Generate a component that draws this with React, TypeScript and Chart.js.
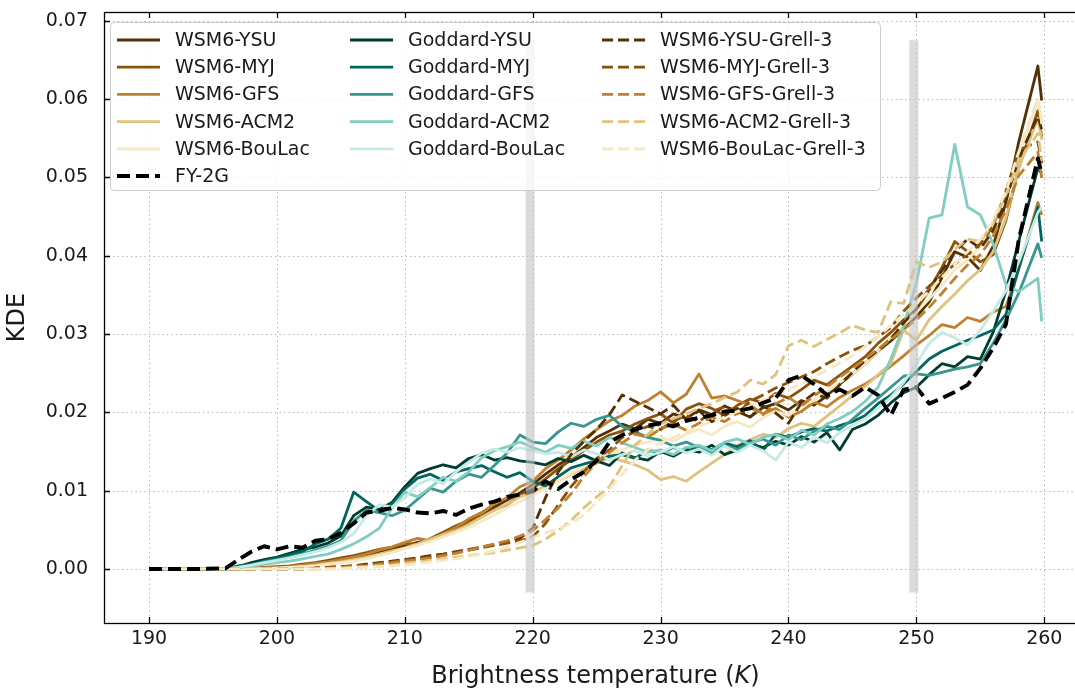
import React, { useEffect, useRef } from "react";
import { Chart, registerables } from "chart.js";

Chart.register(...registerables);

// Brightness temperature grid (K)
const temps = [
  190, 192, 194, 196, 197, 198, 199, 200, 201, 202,
  203, 204, 205, 206, 207, 208, 209, 210, 211, 212,
  213, 214, 215, 216, 217, 218, 219, 220, 221, 222,
  223, 224, 225, 226, 227, 228, 229, 230, 231, 232,
  233, 234, 235, 236, 237, 238, 239, 240, 241, 242,
  243, 244, 245, 246, 247, 248, 249, 250, 251, 252,
  253, 254, 255, 256, 257, 258, 259.5, 259.8,
];

// KDE of simulated brightness temperature, WSM6 microphysics
const wsm6Ysu = [
  0, 0, 0, 0, 0, 0, 0.0001, 0.0002, 0.0003, 0.0004,
  0.0006, 0.0008, 0.0011, 0.0014, 0.0018, 0.0022, 0.0026, 0.0029, 0.0034, 0.0037,
  0.0042, 0.0051, 0.0058, 0.0067, 0.0079, 0.0088, 0.0097, 0.0108, 0.0121, 0.0133,
  0.0142, 0.0155, 0.0168, 0.0176, 0.0185, 0.0179, 0.0191, 0.0186, 0.0198, 0.0192,
  0.0203, 0.0197, 0.0208, 0.0201, 0.0194, 0.0206, 0.0211, 0.0203, 0.0215, 0.0209,
  0.0221, 0.0236, 0.0249, 0.0262, 0.0278, 0.0291, 0.0306, 0.0322, 0.0341, 0.0372,
  0.0405, 0.0398, 0.0381, 0.0412, 0.0468, 0.0545, 0.0642, 0.0598,
];
const wsm6Myj = [
  0, 0, 0, 0, 0, 0.0001, 0.0002, 0.0003, 0.0004, 0.0006,
  0.0008, 0.0011, 0.0014, 0.0017, 0.0021, 0.0025, 0.0028, 0.0033, 0.0031, 0.0039,
  0.0047, 0.0055, 0.0062, 0.0068, 0.0076, 0.0082, 0.0094, 0.0103, 0.0115, 0.0128,
  0.0139, 0.0151, 0.0162, 0.0171, 0.0176, 0.0185, 0.0192, 0.0198, 0.0186, 0.0204,
  0.0211, 0.0205, 0.0196, 0.0209, 0.0217, 0.0212, 0.0224, 0.0218, 0.0229, 0.0241,
  0.0235, 0.0247, 0.0259, 0.0271, 0.0288, 0.0302, 0.0318, 0.0331, 0.0356, 0.0385,
  0.0418, 0.0405, 0.0392, 0.0401, 0.0445, 0.0512, 0.0585, 0.0551,
];
const wsm6Gfs = [
  0, 0, 0, 0, 0, 0, 0.0001, 0.0002, 0.0003, 0.0005,
  0.0007, 0.0009, 0.0012, 0.0015, 0.0019, 0.0024, 0.0028, 0.0034, 0.0039, 0.0036,
  0.0045, 0.0053, 0.0064, 0.0072, 0.0083, 0.0091, 0.0105, 0.0112, 0.0128, 0.0139,
  0.0152, 0.0166, 0.0178, 0.0189, 0.0196, 0.0208, 0.0215, 0.0226, 0.0212, 0.0223,
  0.0249, 0.0218, 0.0221, 0.0215, 0.0209, 0.0198, 0.0205, 0.0194, 0.0201, 0.0213,
  0.0207, 0.0219, 0.0228, 0.0236, 0.0247, 0.0259, 0.0272, 0.0286, 0.0298, 0.0312,
  0.0308, 0.0321, 0.0316, 0.0328, 0.0335, 0.0382, 0.0468, 0.0452,
];
const wsm6Acm2 = [
  0, 0, 0, 0, 0, 0, 0.0001, 0.0001, 0.0002, 0.0003,
  0.0005, 0.0007, 0.0009, 0.0012, 0.0015, 0.0019, 0.0023, 0.0027, 0.0032, 0.0038,
  0.0044, 0.0049, 0.0057, 0.0066, 0.0075, 0.0083, 0.0092, 0.0098, 0.0106, 0.0112,
  0.0121, 0.0129, 0.0135, 0.0142, 0.0138, 0.0133, 0.0126, 0.0114, 0.0118, 0.0112,
  0.0124, 0.0135, 0.0146, 0.0158, 0.0165, 0.0172, 0.0168, 0.0179, 0.0186, 0.0182,
  0.0195, 0.0208, 0.0221, 0.0233, 0.0248, 0.0262, 0.0305, 0.0292, 0.0318, 0.0335,
  0.0351, 0.0368, 0.0382, 0.0405, 0.0448, 0.0512, 0.0575, 0.0548,
];
const wsm6BouLac = [
  0, 0, 0, 0, 0, 0, 0, 0.0001, 0.0002, 0.0003,
  0.0004, 0.0006, 0.0008, 0.001, 0.0013, 0.0017, 0.0021, 0.0026, 0.003, 0.0035,
  0.0041, 0.0047, 0.0053, 0.0061, 0.0069, 0.0078, 0.0086, 0.0094, 0.0103, 0.0112,
  0.0122, 0.0131, 0.0139, 0.0147, 0.0152, 0.0158, 0.0162, 0.0168, 0.0163, 0.0172,
  0.0178, 0.0171, 0.0182, 0.0188, 0.0181, 0.0193, 0.0201, 0.0196, 0.0208, 0.0215,
  0.0226, 0.0238, 0.0249, 0.0262, 0.0278, 0.0296, 0.0311, 0.0328, 0.0345, 0.0362,
  0.0382, 0.0395, 0.0412, 0.0438, 0.0475, 0.0528, 0.0598, 0.0572,
];

// FY-2G satellite observation
const fy2g = [
  0, 0, 0, 0.0001, 0.0012, 0.0022, 0.0029, 0.0025, 0.0029, 0.0027,
  0.0036, 0.0038, 0.0046, 0.0058, 0.0072, 0.0074, 0.0078, 0.0076, 0.0072, 0.0071,
  0.0074, 0.0069, 0.0077, 0.0082, 0.0086, 0.0092, 0.0095, 0.0099, 0.0112, 0.0102,
  0.0114, 0.0124, 0.0138, 0.0162, 0.0171, 0.0178, 0.0183, 0.0186, 0.0182, 0.0189,
  0.0193, 0.0196, 0.0201, 0.0202, 0.0205, 0.0212, 0.0218, 0.0241, 0.0247, 0.0236,
  0.0222, 0.0229, 0.0221, 0.0232, 0.0222, 0.0196, 0.0229, 0.0232, 0.0211, 0.0218,
  0.0226, 0.0235, 0.0256, 0.0282, 0.0312, 0.042, 0.0524, 0.0505,
];

// Goddard microphysics
const goddardYsu = [
  0, 0, 0, 0, 0.0003, 0.0008, 0.0012, 0.0015, 0.002, 0.0025,
  0.0028, 0.0033, 0.0042, 0.0068, 0.0079, 0.0076, 0.0085, 0.0105, 0.0122, 0.0128,
  0.0133, 0.0129, 0.0141, 0.0146, 0.0139, 0.0142, 0.0138, 0.0136, 0.0133, 0.0141,
  0.0137, 0.0145, 0.0138, 0.0132, 0.0148, 0.0142, 0.0139, 0.015, 0.0144, 0.0153,
  0.0149, 0.0158, 0.0146, 0.0152, 0.016, 0.0155, 0.0163, 0.0158, 0.0169, 0.0162,
  0.0174, 0.0152, 0.0178, 0.0185, 0.0196, 0.0212, 0.0225, 0.0232, 0.0248, 0.0262,
  0.0258, 0.0271, 0.0268, 0.0302, 0.0355, 0.0418, 0.0512, 0.0505,
];
const goddardMyj = [
  0, 0, 0, 0, 0.0004, 0.0006, 0.001, 0.0014, 0.0018, 0.0022,
  0.0032, 0.0038, 0.0052, 0.0098, 0.0086, 0.0074, 0.0083, 0.0102, 0.0116, 0.0121,
  0.0113, 0.0124, 0.0128, 0.0132, 0.0124, 0.0117, 0.0123, 0.0112, 0.0106, 0.0118,
  0.0129, 0.0134, 0.0138, 0.0144, 0.0146, 0.0141, 0.0152, 0.0148, 0.0155, 0.0149,
  0.0157, 0.0152, 0.0161, 0.0156, 0.0164, 0.0151, 0.0172, 0.0168, 0.0175, 0.0179,
  0.0176, 0.0183, 0.0188, 0.0196, 0.0211, 0.0222, 0.0236, 0.0252, 0.0268, 0.0278,
  0.0285, 0.0292, 0.0298, 0.0305, 0.0325, 0.0384, 0.0462, 0.0418,
];
const goddardGfs = [
  0, 0, 0, 0, 0.0002, 0.0005, 0.0009, 0.0012, 0.0015, 0.0019,
  0.0024, 0.0029, 0.0036, 0.0061, 0.0075, 0.0072, 0.0068, 0.0075, 0.0089, 0.0103,
  0.0098, 0.0112, 0.0121, 0.0117, 0.0132, 0.0148, 0.0171, 0.0162, 0.016, 0.0175,
  0.0186, 0.0182, 0.0191, 0.0196, 0.0182, 0.0175, 0.0168, 0.0164, 0.0157, 0.0162,
  0.0155, 0.0147, 0.0158, 0.0152, 0.0161, 0.0166, 0.0158, 0.0171, 0.0165, 0.0176,
  0.0182, 0.0178, 0.0191, 0.0205, 0.0218, 0.0232, 0.0246, 0.0249, 0.0247, 0.0251,
  0.0255, 0.0258, 0.0262, 0.0288, 0.0318, 0.0352, 0.0415, 0.0397,
];
const goddardAcm2 = [
  0, 0, 0, 0, 0.0002, 0.0004, 0.0006, 0.0008, 0.001, 0.0013,
  0.0016, 0.0019, 0.0025, 0.0032, 0.0041, 0.0052, 0.0078, 0.0098, 0.0092, 0.0104,
  0.0117, 0.0112, 0.0124, 0.0142, 0.0151, 0.0156, 0.0162, 0.0155, 0.0149, 0.0158,
  0.0154, 0.0163, 0.0157, 0.0168, 0.0161, 0.0155, 0.0149, 0.0152, 0.0146, 0.0155,
  0.0158, 0.0151, 0.0162, 0.0166, 0.0159, 0.0168, 0.0172, 0.0165, 0.0177, 0.0171,
  0.0185, 0.0192, 0.0201, 0.0214, 0.0232, 0.0268, 0.031, 0.0365, 0.0448, 0.0452,
  0.0542, 0.0462, 0.0452, 0.0415, 0.0363, 0.0354, 0.0371, 0.0316,
];
const goddardBouLac = [
  0, 0, 0, 0, 0.0002, 0.0005, 0.0008, 0.0011, 0.0014, 0.0018,
  0.0022, 0.0027, 0.0034, 0.0045, 0.0068, 0.0082, 0.0079, 0.0091, 0.0108, 0.0115,
  0.0109, 0.0124, 0.0136, 0.0148, 0.0153, 0.0149, 0.0155, 0.0151, 0.0147, 0.0149,
  0.0143, 0.0152, 0.0147, 0.0139, 0.0146, 0.0151, 0.0144, 0.0149, 0.0156, 0.0148,
  0.0153, 0.0145, 0.0157, 0.0149, 0.0158, 0.0151, 0.0139, 0.0162, 0.0155, 0.0168,
  0.0161, 0.0174, 0.0183, 0.0192, 0.0205, 0.0219, 0.0238, 0.0262, 0.0288, 0.0302,
  0.0295, 0.0286, 0.0305, 0.0329, 0.0355, 0.0392, 0.0455, 0.0462,
];

// WSM6 with the Grell-3 cumulus scheme
const ysuGrell = [
  0, 0, 0, 0, 0, 0, 0, 0, 0, 0,
  0.0001, 0.0002, 0.0003, 0.0004, 0.0006, 0.0008, 0.001, 0.0012, 0.0014, 0.0017,
  0.0019, 0.0022, 0.0025, 0.0028, 0.0031, 0.0034, 0.0039, 0.0052, 0.0091, 0.0124,
  0.0146, 0.0163, 0.0178, 0.0197, 0.0222, 0.0214, 0.0206, 0.0198, 0.0209, 0.0191,
  0.0202, 0.0188, 0.0196, 0.0205, 0.0194, 0.0208, 0.0199, 0.0186, 0.0212, 0.0224,
  0.0218, 0.0235, 0.0251, 0.0266, 0.0279, 0.0294, 0.0314, 0.0332, 0.0358, 0.0381,
  0.0405, 0.0421, 0.0409, 0.0432, 0.0471, 0.0524, 0.0578, 0.0561,
];
const myjGrell = [
  0, 0, 0, 0, 0, 0, 0, 0, 0, 0,
  0.0001, 0.0002, 0.0003, 0.0004, 0.0005, 0.0007, 0.0009, 0.0011, 0.0013, 0.0015,
  0.0018, 0.0021, 0.0024, 0.0027, 0.003, 0.0033, 0.0036, 0.0041, 0.0058, 0.0082,
  0.0105, 0.0124, 0.0141, 0.0152, 0.0168, 0.0175, 0.0182, 0.0178, 0.0189, 0.0196,
  0.0188, 0.0201, 0.0207, 0.0198, 0.0214, 0.0222, 0.0231, 0.0238, 0.0245, 0.0252,
  0.0262, 0.0271, 0.0279, 0.0285, 0.0296, 0.0308, 0.0329, 0.0346, 0.0361, 0.0375,
  0.0389, 0.0402, 0.0415, 0.0438, 0.0482, 0.0535, 0.0545, 0.0518,
];
const gfsGrell = [
  0, 0, 0, 0, 0, 0, 0, 0, 0, 0,
  0, 0.0001, 0.0002, 0.0003, 0.0004, 0.0006, 0.0008, 0.001, 0.0012, 0.0014,
  0.0017, 0.002, 0.0024, 0.0028, 0.0032, 0.0036, 0.0042, 0.0049, 0.0063, 0.0078,
  0.0096, 0.0118, 0.0136, 0.0149, 0.0161, 0.0172, 0.0168, 0.0179, 0.0185, 0.0177,
  0.0186, 0.0194, 0.0188, 0.0199, 0.0206, 0.0197, 0.0211, 0.0219, 0.0208, 0.0221,
  0.0232, 0.0245, 0.0256, 0.0268, 0.0281, 0.0293, 0.0306, 0.0318, 0.0334, 0.0352,
  0.0371, 0.0388, 0.0401, 0.0425, 0.0458, 0.0502, 0.0532, 0.0499,
];
const acm2Grell = [
  0, 0, 0, 0, 0, 0, 0, 0, 0, 0,
  0, 0, 0.0001, 0.0002, 0.0003, 0.0004, 0.0005, 0.0007, 0.0009, 0.0011,
  0.0013, 0.0015, 0.0017, 0.0019, 0.0021, 0.0024, 0.0027, 0.003, 0.0038, 0.0049,
  0.0062, 0.0078, 0.0092, 0.0105, 0.0132, 0.0158, 0.0172, 0.0185, 0.0192, 0.0198,
  0.0205, 0.0211, 0.0219, 0.0226, 0.0241, 0.0236, 0.0248, 0.0285, 0.0292, 0.0284,
  0.0293, 0.0301, 0.0311, 0.0305, 0.0302, 0.0341, 0.0339, 0.0392, 0.0385, 0.0392,
  0.0408, 0.0421, 0.0418, 0.0441, 0.0478, 0.0521, 0.0556, 0.0521,
];
const bouLacGrell = [
  0, 0, 0, 0, 0, 0, 0, 0, 0, 0,
  0, 0, 0, 0.0001, 0.0002, 0.0003, 0.0004, 0.0005, 0.0007, 0.0009,
  0.0011, 0.0013, 0.0016, 0.0019, 0.0023, 0.0028, 0.0034, 0.004, 0.0046, 0.0051,
  0.0058, 0.0069, 0.0085, 0.0102, 0.0121, 0.0139, 0.0152, 0.0161, 0.0168, 0.0175,
  0.0182, 0.0188, 0.0194, 0.0201, 0.0208, 0.0215, 0.0222, 0.0229, 0.0236, 0.0245,
  0.0254, 0.0263, 0.0272, 0.0284, 0.0296, 0.0311, 0.0325, 0.0338, 0.0355, 0.0372,
  0.0389, 0.0405, 0.0421, 0.0445, 0.0482, 0.0532, 0.0602, 0.0568,
];

// Shaded reference temperatures (K) and their vertical extent
const markerTemps = [219.8, 249.8];
const markerSpan = [-0.003, 0.0675];

const xTitle = "Brightness temperature (";
const xTitleUnit = "K";
const yTitle = "KDE";

type Series = {
  label: string;
  values: number[];
  color: string;
  dash: number[];
  width: number;
};

const SOLID: number[] = [];
const GRELL_DASH = [11, 5];
const OBS_DASH = [13, 6];
const LINE_W = 2.8;

const wsm6Series: Series[] = [
  { label: "WSM6-YSU", values: wsm6Ysu, color: "#543005", dash: SOLID, width: LINE_W },
  { label: "WSM6-MYJ", values: wsm6Myj, color: "#8c510a", dash: SOLID, width: LINE_W },
  { label: "WSM6-GFS", values: wsm6Gfs, color: "#bf812d", dash: SOLID, width: LINE_W },
  { label: "WSM6-ACM2", values: wsm6Acm2, color: "#dfc27d", dash: SOLID, width: LINE_W },
  { label: "WSM6-BouLac", values: wsm6BouLac, color: "#f6e8c3", dash: SOLID, width: LINE_W },
];
const obsSeries: Series = { label: "FY-2G", values: fy2g, color: "#000000", dash: OBS_DASH, width: 3.9 };
const goddardSeries: Series[] = [
  { label: "Goddard-YSU", values: goddardYsu, color: "#003c30", dash: SOLID, width: LINE_W },
  { label: "Goddard-MYJ", values: goddardMyj, color: "#01665e", dash: SOLID, width: LINE_W },
  { label: "Goddard-GFS", values: goddardGfs, color: "#35978f", dash: SOLID, width: LINE_W },
  { label: "Goddard-ACM2", values: goddardAcm2, color: "#80cdc1", dash: SOLID, width: LINE_W },
  { label: "Goddard-BouLac", values: goddardBouLac, color: "#c7eae5", dash: SOLID, width: LINE_W },
];
const grellSeries: Series[] = [
  { label: "WSM6-YSU-Grell-3", values: ysuGrell, color: "#543005", dash: GRELL_DASH, width: LINE_W },
  { label: "WSM6-MYJ-Grell-3", values: myjGrell, color: "#8c510a", dash: GRELL_DASH, width: LINE_W },
  { label: "WSM6-GFS-Grell-3", values: gfsGrell, color: "#bf812d", dash: GRELL_DASH, width: LINE_W },
  { label: "WSM6-ACM2-Grell-3", values: acm2Grell, color: "#dfc27d", dash: GRELL_DASH, width: LINE_W },
  { label: "WSM6-BouLac-Grell-3", values: bouLacGrell, color: "#f6e8c3", dash: GRELL_DASH, width: LINE_W },
];

// drawing order: first is lowest, the observation is drawn last
const drawOrder: Series[] = [...wsm6Series, ...goddardSeries, ...grellSeries, obsSeries];
// legend columns, filled top to bottom
const legendColumns: Series[][] = [[...wsm6Series, obsSeries], goddardSeries, grellSeries];

const FONT = "DejaVu Sans";
const TEXT_COLOR = "#1a1a1a";

const chartPlugin = {
  id: "axesDecor",
  beforeDatasetsDraw(chart: any) {
    const { ctx, chartArea: a, scales } = chart;
    const xs = scales.x;
    const ys = scales.y;
    ctx.save();
    ctx.strokeStyle = "#b0b0b0";
    ctx.lineWidth = 1;
    ctx.setLineDash([1.3, 3.2]);
    xs.ticks.forEach((t: any) => {
      const px = Math.round(xs.getPixelForValue(t.value)) + 0.5;
      ctx.beginPath();
      ctx.moveTo(px, a.top);
      ctx.lineTo(px, a.bottom);
      ctx.stroke();
    });
    ys.ticks.forEach((t: any) => {
      const py = Math.round(ys.getPixelForValue(t.value)) + 0.5;
      ctx.beginPath();
      ctx.moveTo(a.left, py);
      ctx.lineTo(a.right, py);
      ctx.stroke();
    });
    ctx.restore();
  },
  afterDatasetsDraw(chart: any) {
    const { ctx, chartArea: a, scales } = chart;
    const xs = scales.x;
    const ys = scales.y;
    ctx.save();
    // frame
    ctx.strokeStyle = "#000";
    ctx.lineWidth = 1.3;
    ctx.setLineDash([]);
    ctx.strokeRect(a.left + 0.5, a.top + 0.5, a.right - a.left, a.bottom - a.top);
    // inward ticks on all sides
    const tl = 6;
    xs.ticks.forEach((t: any) => {
      const px = Math.round(xs.getPixelForValue(t.value)) + 0.5;
      ctx.beginPath();
      ctx.moveTo(px, a.bottom);
      ctx.lineTo(px, a.bottom - tl);
      ctx.moveTo(px, a.top);
      ctx.lineTo(px, a.top + tl);
      ctx.stroke();
    });
    ys.ticks.forEach((t: any) => {
      const py = Math.round(ys.getPixelForValue(t.value)) + 0.5;
      ctx.beginPath();
      ctx.moveTo(a.left, py);
      ctx.lineTo(a.left + tl, py);
      ctx.moveTo(a.right, py);
      ctx.lineTo(a.right - tl, py);
      ctx.stroke();
    });

    // legend
    const lx = 110, ly = 22, lw = 770, lh = 168;
    ctx.beginPath();
    ctx.roundRect(lx + 0.5, ly + 0.5, lw, lh, 4);
    ctx.fillStyle = "rgba(255,255,255,0.8)";
    ctx.fill();
    ctx.strokeStyle = "#cccccc";
    ctx.lineWidth = 1;
    ctx.stroke();
    const colX = [117, 350, 602];
    const handleLen = 43;
    const textGap = 58;
    const row0 = 40;
    const rowH = 27.2;
    ctx.font = `19px "${FONT}"`;
    ctx.textBaseline = "middle";
    ctx.textAlign = "left";
    legendColumns.forEach((col, c) => {
      col.forEach((s, r) => {
        const y = row0 + r * rowH;
        ctx.beginPath();
        ctx.strokeStyle = s.color;
        ctx.lineWidth = s.width;
        ctx.lineCap = "butt";
        ctx.setLineDash(s.dash);
        ctx.moveTo(colX[c], y);
        ctx.lineTo(colX[c] + handleLen, y);
        ctx.stroke();
        ctx.setLineDash([]);
        ctx.fillStyle = TEXT_COLOR;
        ctx.fillText(s.label, colX[c] + textGap, y + 1);
      });
    });

    // axis titles
    ctx.fillStyle = TEXT_COLOR;
    const regular = `24px "${FONT}"`;
    const italic = `italic 24px "${FONT}"`;
    ctx.font = regular;
    const w1 = ctx.measureText(xTitle).width;
    ctx.font = italic;
    const w2 = ctx.measureText(xTitleUnit).width;
    ctx.font = regular;
    const w3 = ctx.measureText(")").width;
    const total = w1 + w2 + w3;
    const cx = (a.left + a.right) / 2;
    const x0 = cx - total / 2;
    const ty = 677;
    ctx.textAlign = "left";
    ctx.font = regular;
    ctx.fillText(xTitle, x0, ty);
    ctx.font = italic;
    ctx.fillText(xTitleUnit, x0 + w1, ty);
    ctx.font = regular;
    ctx.fillText(")", x0 + w1 + w2, ty);

    ctx.save();
    ctx.translate(18, (a.top + a.bottom) / 2);
    ctx.rotate(-Math.PI / 2);
    ctx.textAlign = "center";
    ctx.font = regular;
    ctx.fillText(yTitle, 0, 0);
    ctx.restore();

    ctx.restore();
  },
};

const zeroPadding = (s: any) => {
  s.paddingTop = 0;
  s.paddingBottom = 0;
  s.paddingLeft = 0;
  s.paddingRight = 0;
};

export default function App() {
  const canvasRef = useRef<HTMLCanvasElement | null>(null);

  useEffect(() => {
    const canvas = canvasRef.current;
    if (!canvas) return;
    const n = drawOrder.length;
    const lineSets = drawOrder.map((s, i) => ({
      label: s.label,
      data: temps.map((t, k) => ({ x: t, y: s.values[k] })),
      borderColor: s.color,
      backgroundColor: s.color,
      borderWidth: s.width,
      borderDash: s.dash,
      borderCapStyle: "butt" as const,
      borderJoinStyle: "round" as const,
      pointRadius: 0,
      tension: 0,
      fill: false,
      order: n - i,
    }));
    const markerSets = markerTemps.map((t) => ({
      label: `marker ${t}`,
      data: [
        { x: t, y: markerSpan[0] },
        { x: t, y: markerSpan[1] },
      ],
      borderColor: "rgba(195,195,195,0.6)",
      backgroundColor: "rgba(195,195,195,0.6)",
      borderWidth: 9,
      borderCapStyle: "butt" as const,
      pointRadius: 0,
      tension: 0,
      fill: false,
      order: -1,
    }));

    const chart = new Chart(canvas, {
      type: "line",
      data: { datasets: [...lineSets, ...markerSets] as any },
      options: {
        animation: false,
        responsive: false,
        maintainAspectRatio: false,
        layout: { padding: { top: 12, right: 8, left: 0, bottom: 0 }, autoPadding: false },
        plugins: {
          legend: { display: false },
          tooltip: { enabled: false },
        },
        scales: {
          x: {
            type: "linear",
            min: 186.48,
            max: 263.34,
            grid: { display: false, drawTicks: false },
            border: { display: false },
            ticks: {
              stepSize: 10,
              includeBounds: false,
              autoSkip: false,
              maxRotation: 0,
              padding: 5,
              color: TEXT_COLOR,
              font: { family: FONT, size: 19 },
              callback: (v: any) => String(v),
            },
            afterFit: (s: any) => {
              s.height = 67;
              zeroPadding(s);
            },
          },
          y: {
            type: "linear",
            min: -0.0069,
            max: 0.0711,
            grid: { display: false, drawTicks: false },
            border: { display: false },
            ticks: {
              stepSize: 0.01,
              includeBounds: false,
              padding: 16,
              color: TEXT_COLOR,
              font: { family: FONT, size: 19 },
              callback: (v: any) => Number(v).toFixed(2),
            },
            afterFit: (s: any) => {
              s.width = 104;
              zeroPadding(s);
            },
          },
        },
      },
      plugins: [chartPlugin],
    });
    return () => chart.destroy();
  }, []);

  return (
    <div
      style={{
        position: "absolute",
        left: 0,
        top: 0,
        width: 1075,
        height: 690,
        overflow: "hidden",
        background: "#ffffff",
      }}
    >
      <canvas ref={canvasRef} width={1095} height={690} style={{ display: "block" }} />
    </div>
  );
}
